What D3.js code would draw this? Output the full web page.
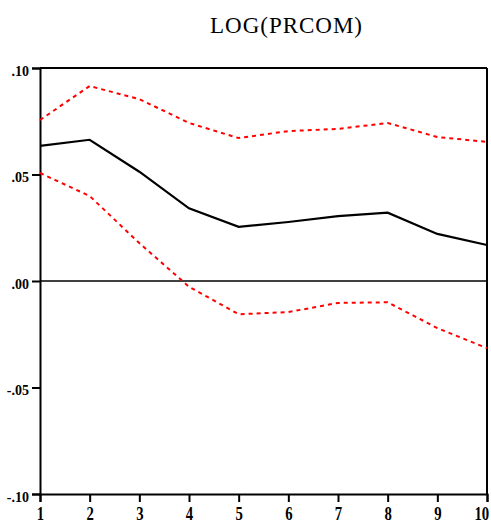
<!DOCTYPE html>
<html>
<head>
<meta charset="utf-8">
<script src="https://cdn.jsdelivr.net/npm/d3@7"></script>
<style>
  html, body { margin: 0; padding: 0; background: #fff; }
  svg { display: block; }
</style>
</head>
<body>
<svg id="chart" width="491" height="529"></svg>
<script>
// Impulse response of LOG(PRCOM) over 10 periods, with ±2 S.E. bands
const periods = [1, 2, 3, 4, 5, 6, 7, 8, 9, 10];
const response = [0.0634, 0.0663, 0.0513, 0.0341, 0.0254, 0.0277, 0.0305, 0.0321, 0.0221, 0.0169];
const upperBand = [0.0756, 0.0915, 0.0854, 0.0742, 0.0671, 0.0704, 0.0714, 0.0742, 0.0676, 0.0653];
const lowerBand = [0.0507, 0.0399, 0.0178, -0.0027, -0.0156, -0.0146, -0.0103, -0.0100, -0.0221, -0.0315];
const yTicks = [0.10, 0.05, 0.00, -0.05, -0.10];
const yTickLabels = [".10", ".05", ".00", "-.05", "-.10"];
const title = "LOG(PRCOM)";

const svg = d3.select("#chart");
const plot = { left: 40, right: 487, top: 68, bottom: 494 };

const x = d3.scaleLinear().domain([1, 10]).range([plot.left, plot.right]);
const y = d3.scaleLinear().domain([-0.10, 0.10]).range([plot.bottom, plot.top]);

// Title
svg.append("text")
  .attr("x", 286).attr("y", 33)
  .attr("text-anchor", "middle")
  .attr("font-family", "'Liberation Serif', 'Times New Roman', serif")
  .attr("font-size", 23)
  .attr("textLength", 152)
  .attr("lengthAdjust", "spacing")
  .attr("fill", "#000")
  .text(title);

// Frame: top and right borders
svg.append("line")
  .attr("x1", plot.left).attr("x2", plot.right).attr("y1", plot.top).attr("y2", plot.top)
  .attr("stroke", "#000").attr("stroke-width", 2);
svg.append("line")
  .attr("x1", plot.right).attr("x2", plot.right).attr("y1", plot.top).attr("y2", plot.bottom)
  .attr("stroke", "#000").attr("stroke-width", 2);

// Y axis
const yAxis = svg.append("g")
  .attr("transform", `translate(${plot.left},0)`)
  .call(d3.axisLeft(y)
    .tickValues(yTicks)
    .tickSize(8)
    .tickPadding(3)
    .tickFormat((d, i) => yTickLabels[i]));
yAxis.select(".domain").attr("stroke-width", 2);
yAxis.selectAll(".tick line").attr("stroke-width", 2);
yAxis.selectAll("text")
  .attr("font-family", "'Liberation Serif', 'Times New Roman', serif")
  .attr("font-weight", "bold")
  .attr("font-size", 14)
  .attr("dy", "0.5em");

// X axis (narrow bold digits; the last label sits flush against the right edge)
const xAxis = svg.append("g")
  .attr("transform", `translate(0,${plot.bottom})`)
  .call(d3.axisBottom(x)
    .tickValues(periods)
    .tickSize(8)
    .tickPadding(5)
    .tickFormat(d3.format("d")));
xAxis.select(".domain").attr("stroke-width", 2);
xAxis.selectAll(".tick line").attr("stroke-width", 2);
xAxis.selectAll("text")
  .attr("font-family", "'Liberation Serif', 'Times New Roman', serif")
  .attr("font-weight", "bold")
  .attr("font-size", 18)
  .attr("transform", "scale(0.82,1)")
  .attr("x", d => d === periods[periods.length - 1] ? -7 : 0);

// Zero reference line
svg.append("line")
  .attr("x1", plot.left).attr("x2", plot.right)
  .attr("y1", y(0)).attr("y2", y(0))
  .attr("stroke", "#000").attr("stroke-width", 1.5);

const line = d3.line()
  .x((d, i) => x(periods[i]))
  .y(d => y(d));

// Confidence bands
[upperBand, lowerBand].forEach(band => {
  svg.append("path")
    .datum(band)
    .attr("d", line)
    .attr("fill", "none")
    .attr("stroke", "#ff0000")
    .attr("stroke-width", 2)
    .attr("stroke-dasharray", "4,4");
});

// Response
svg.append("path")
  .datum(response)
  .attr("d", line)
  .attr("fill", "none")
  .attr("stroke", "#000")
  .attr("stroke-width", 2.2);
</script>
</body>
</html>
